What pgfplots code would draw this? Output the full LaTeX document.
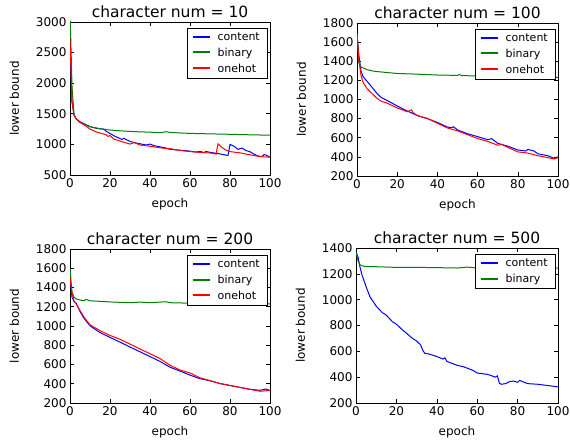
\documentclass[border=0pt]{standalone}
\usepackage{fontspec}
\setmainfont{DejaVu Sans}
\usepackage{pgfplots}
\pgfplotsset{compat=1.18}
\definecolor{mplblue}{rgb}{0,0,1}
\definecolor{mplgreen}{rgb}{0,0.5,0}
\definecolor{mplred}{rgb}{1,0,0}

\pgfplotsset{
  panel/.style={
    scale only axis, width=200pt, height=153pt,
    anchor=south west,
    xmin=0, xmax=100, xtick={0,20,...,100},
    tick align=inside, major tick length=4pt,
    tick style={black, line width=0.6pt},
    axis line style={line width=0.8pt},
    ticklabel style={font=\fontsize{12}{12}\selectfont},
    /pgf/number format/assume math mode=true,
    /pgf/number format/1000 sep={},
    scaled y ticks=false,
    xlabel={epoch}, ylabel={lower bound},
    label style={font=\fontsize{12}{12}\selectfont},
    xlabel style={yshift=-4pt},
    ylabel style={yshift=10pt},
    title style={font=\fontsize{15.5}{16}\selectfont, yshift=-5pt},
    legend style={at={(0.985,0.96)}, anchor=north east,
      font=\fontsize{11}{13}\selectfont,
      inner xsep=4pt, inner ysep=3pt, row sep=3pt, column sep=4pt,
      nodes={inner xsep=3pt, inner ysep=1.5pt}},
    legend cell align=left,
    legend image code/.code={\draw[#1, line width=2pt] (0pt,0.5pt) -- (17pt,0.5pt);},
    every axis plot/.append style={line width=1pt},
    clip=true,
  },
}

\begin{document}
\begin{tikzpicture}
\useasboundingbox (0,0) rectangle (570pt,442pt);

% character num = 10
\begin{axis}[panel, at={(70pt,267pt)}, ymin=500, ymax=3000,
  ytick={500,1000,...,3000}, title={character num = 10}]
\addplot[color=mplblue] coordinates {(0,2700) (1,1700) (2,1480) (3,1420) (5,1370) (8,1320) (10,1290) (13,1265) (15,1255) (17,1250) (18,1215) (20,1180) (22,1140) (24,1110) (26,1080) (27,1100) (28,1080) (30,1050) (32,1030) (35,1010) (38,990) (40,1005) (42,980) (45,960) (48,940) (50,920) (55,905) (60,890) (63,875) (65,885) (67,868) (68,885) (70,870) (72,860) (75,845) (78,825) (79,820) (80,1000) (82,970) (84,920) (86,940) (88,900) (90,880) (92,840) (94,810) (96,800) (97,835) (98,825) (100,790)};
\addlegendentry{content}
\addplot[color=mplgreen] coordinates {(0,3200) (1,1950) (2,1500) (3,1420) (4,1385) (5,1360) (7,1330) (10,1290) (15,1255) (20,1235) (25,1222) (30,1212) (35,1205) (40,1200) (45,1190) (48,1208) (50,1196) (55,1187) (60,1180) (70,1172) (80,1165) (90,1157) (100,1150)};
\addlegendentry{binary}
\addplot[color=mplred] coordinates {(0,2700) (1,1700) (2,1480) (3,1420) (5,1360) (8,1300) (10,1250) (13,1205) (15,1185) (18,1160) (19,1130) (20,1145) (22,1085) (25,1055) (28,1025) (30,1005) (32,1030) (35,990) (40,970) (45,945) (48,932) (50,930) (55,902) (60,882) (65,870) (70,860) (72,850) (73,840) (74,1010) (76,950) (78,905) (80,882) (85,862) (90,830) (95,802) (100,790)};
\addlegendentry{onehot}
\end{axis}

% character num = 100
\begin{axis}[panel, at={(357pt,266pt)}, width=201pt, ymin=200, ymax=1800,
  ytick={200,400,...,1800}, title={character num = 100}]
\addplot[color=mplblue] coordinates {(0,1680) (1,1450) (2,1300) (3,1240) (5,1190) (7,1140) (10,1062) (12,1022) (15,990) (20,932) (25,880) (30,832) (35,800) (40,760) (45,712) (47,705) (48,715) (50,682) (55,642) (60,612) (65,580) (67,590) (70,542) (75,512) (80,472) (84,462) (85,478) (88,462) (90,432) (95,412) (98,385) (100,400)};
\addlegendentry{content}
\addplot[color=mplgreen] coordinates {(0,1680) (1,1380) (2,1340) (3,1330) (5,1312) (8,1297) (10,1292) (15,1282) (20,1272) (30,1265) (40,1256) (50,1252) (51,1262) (52,1250) (60,1246) (70,1240) (80,1236) (90,1232) (100,1230)};
\addlegendentry{binary}
\addplot[color=mplred] coordinates {(0,1690) (1,1400) (2,1250) (3,1182) (5,1112) (7,1072) (10,1012) (12,982) (15,962) (20,912) (25,872) (27,892) (28,862) (30,832) (35,802) (40,752) (45,702) (50,672) (55,632) (60,592) (65,562) (70,522) (72,530) (75,500) (80,452) (83,445) (85,440) (90,412) (95,392) (98,378) (100,392)};
\addlegendentry{onehot}
\end{axis}

% character num = 200
\begin{axis}[panel, at={(70pt,39pt)}, height=154pt, ymin=200, ymax=1800,
  ytick={200,400,...,1800}, title={character num = 200}]
\addplot[color=mplblue] coordinates {(0,1500) (1,1300) (2,1255) (3,1240) (5,1150) (7,1080) (10,1002) (15,932) (20,882) (25,832) (30,782) (35,732) (40,682) (45,632) (50,572) (55,532) (60,490) (65,452) (70,432) (75,402) (80,382) (85,362) (90,342) (95,332) (98,345) (100,330)};
\addlegendentry{content}
\addplot[color=mplgreen] coordinates {(0,1600) (1,1350) (2,1300) (3,1282) (5,1270) (7,1262) (8,1277) (10,1262) (15,1256) (20,1250) (30,1242) (35,1248) (40,1242) (48,1252) (50,1242) (60,1237) (70,1236) (80,1235) (90,1232) (100,1230)};
\addlegendentry{binary}
\addplot[color=mplred] coordinates {(0,1500) (1,1350) (2,1262) (3,1232) (5,1162) (7,1092) (10,1012) (15,952) (20,902) (25,862) (30,812) (35,762) (40,712) (45,662) (50,592) (55,542) (60,512) (65,462) (70,432) (75,402) (80,382) (85,362) (90,342) (95,322) (100,330)};
\addlegendentry{onehot}
\end{axis}

% character num = 500
\begin{axis}[panel, at={(356pt,39pt)}, width=202pt, height=155pt, ymin=200, ymax=1400,
  ytick={200,400,...,1400}, title={character num = 500}]
\addplot[color=mplblue] coordinates {(0,1370) (1,1330) (2,1250) (3,1190) (5,1100) (7,1020) (10,950) (13,900) (15,880) (18,830) (20,810) (22,780) (25,740) (28,700) (30,680) (32,650) (33,610) (34,585) (36,580) (40,560) (43,540) (44,550) (45,522) (50,492) (53,482) (55,470) (58,452) (60,432) (65,422) (67,412) (69,400) (70,410) (71,352) (72,345) (74,350) (76,365) (78,370) (80,360) (81,375) (83,362) (85,350) (90,345) (95,335) (100,325)};
\addlegendentry{content}
\addplot[color=mplgreen] coordinates {(0,1370) (1,1300) (2,1270) (3,1262) (5,1256) (10,1255) (20,1250) (30,1250) (40,1248) (50,1245) (55,1252) (60,1245) (70,1245) (80,1245) (90,1245) (100,1245)};
\addlegendentry{binary}
\end{axis}
\end{tikzpicture}
\end{document}
